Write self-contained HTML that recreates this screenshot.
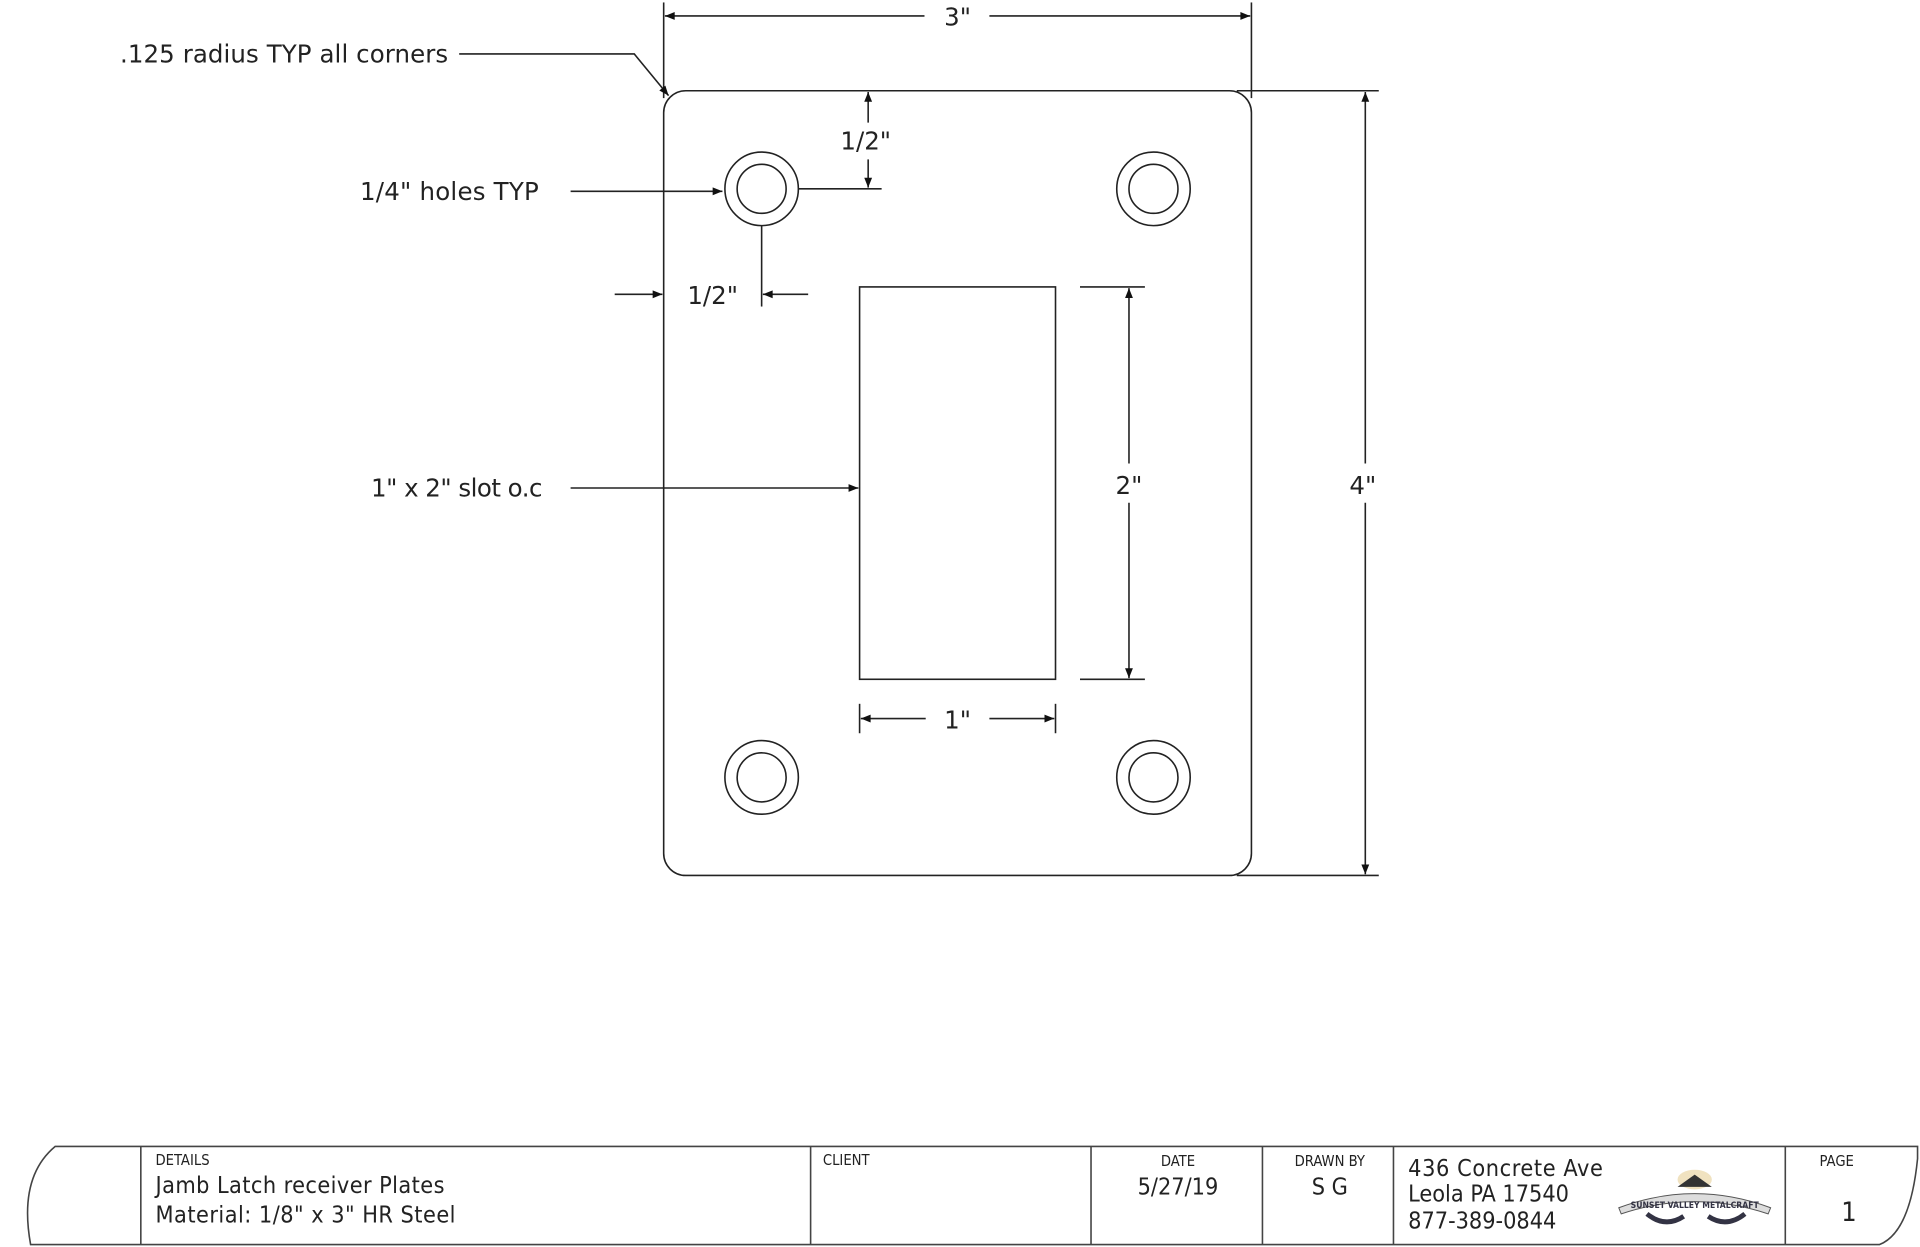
<!DOCTYPE html>
<html><head><meta charset="utf-8"><style>
html,body{margin:0;padding:0;background:#fff;}
svg{display:block;}
text{font-family:"DejaVu Sans Condensed","Liberation Sans",sans-serif;fill:#222;}
.d{font-family:"DejaVu Sans","Liberation Sans",sans-serif;}
</style></head><body>
<svg width="1920" height="1247" viewBox="0 0 1568 1017" preserveAspectRatio="none" xmlns="http://www.w3.org/2000/svg">
<defs>
<marker id="a" viewBox="0 0 10 10" refX="10" refY="5" markerWidth="20" markerHeight="8" markerUnits="userSpaceOnUse" orient="auto"><path d="M0,1 L10,5 L0,9 z" fill="#111"/></marker>
</defs>
<g stroke="#222" stroke-width="1.3" fill="none">
<rect x="542" y="74" width="480" height="640" rx="18"/>
<circle cx="622" cy="154" r="30"/><circle cx="622" cy="154" r="20"/>
<circle cx="942" cy="154" r="30"/><circle cx="942" cy="154" r="20"/>
<circle cx="622" cy="634" r="30"/><circle cx="622" cy="634" r="20"/>
<circle cx="942" cy="634" r="30"/><circle cx="942" cy="634" r="20"/>
<rect x="702" y="234" width="160" height="320"/>
<line x1="542" y1="2" x2="542" y2="80"/><line x1="1022" y1="2" x2="1022" y2="80"/>
<line x1="755" y1="13" x2="543" y2="13" marker-end="url(#a)"/>
<line x1="808" y1="13" x2="1021" y2="13" marker-end="url(#a)"/>
<line x1="1010" y1="74" x2="1126" y2="74"/><line x1="1010" y1="714" x2="1126" y2="714"/>
<line x1="1115" y1="378" x2="1115" y2="75" marker-end="url(#a)"/>
<line x1="1115" y1="410" x2="1115" y2="713" marker-end="url(#a)"/>
<line x1="882" y1="234" x2="935" y2="234"/><line x1="882" y1="554" x2="935" y2="554"/>
<line x1="922" y1="378" x2="922" y2="235" marker-end="url(#a)"/>
<line x1="922" y1="410" x2="922" y2="553" marker-end="url(#a)"/>
<line x1="702" y1="574" x2="702" y2="598"/><line x1="862" y1="574" x2="862" y2="598"/>
<line x1="756" y1="586" x2="703" y2="586" marker-end="url(#a)"/>
<line x1="808" y1="586" x2="861" y2="586" marker-end="url(#a)"/>
<line x1="652" y1="154" x2="720" y2="154"/>
<line x1="709" y1="100" x2="709" y2="75" marker-end="url(#a)"/>
<line x1="709" y1="130" x2="709" y2="153" marker-end="url(#a)"/>
<line x1="622" y1="184" x2="622" y2="250"/>
<line x1="502" y1="240" x2="541" y2="240" marker-end="url(#a)"/>
<line x1="660" y1="240" x2="623" y2="240" marker-end="url(#a)"/>
<polyline points="375,44 518,44 546,78" marker-end="url(#a)"/>
<line x1="466" y1="156" x2="590" y2="156" marker-end="url(#a)"/>
<line x1="466" y1="398" x2="701" y2="398" marker-end="url(#a)"/>
</g>
<g font-size="20" class="d">
<text class="d" x="782" y="21" text-anchor="middle">3"</text>
<text class="d" x="1113" y="403" text-anchor="middle">4"</text>
<text class="d" x="922" y="403" text-anchor="middle">2"</text>
<text class="d" x="782" y="594" text-anchor="middle">1"</text>
<text class="d" x="707" y="122" text-anchor="middle">1/2"</text>
<text class="d" x="582" y="248" text-anchor="middle">1/2"</text>
<text class="d" x="98" y="51" textLength="268">.125 radius TYP all corners</text>
<text class="d" x="294" y="163" textLength="146">1/4" holes TYP</text>
<text class="d" x="303" y="405" textLength="140">1" x 2" slot o.c</text>
</g>
<g stroke="#444" stroke-width="1.3" fill="none">
<path d="M45,935 L1566,935 L1566,945 Q1560,1005 1535,1015 L25,1015 Q15,960 45,935 Z"/>
<line x1="115" y1="935" x2="115" y2="1015"/>
<line x1="662" y1="935" x2="662" y2="1015"/>
<line x1="891" y1="935" x2="891" y2="1015"/>
<line x1="1031" y1="935" x2="1031" y2="1015"/>
<line x1="1138" y1="935" x2="1138" y2="1015"/>
<line x1="1458" y1="935" x2="1458" y2="1015"/>
</g>
<g font-size="12">
<text x="127" y="950">DETAILS</text>
<text x="672" y="950">CLIENT</text>
<text x="962" y="951" text-anchor="middle">DATE</text>
<text x="1086" y="951" text-anchor="middle">DRAWN BY</text>
<text x="1500" y="951" text-anchor="middle">PAGE</text>
</g>
<g font-size="19">
<text x="127" y="973" textLength="236">Jamb Latch receiver Plates</text>
<text x="127" y="997" textLength="245">Material: 1/8" x 3" HR Steel</text>
<text x="962" y="974" text-anchor="middle">5/27/19</text>
<text x="1086" y="974" text-anchor="middle">S G</text>
<text x="1150" y="959" textLength="159">436 Concrete Ave</text>
<text x="1150" y="980">Leola PA 17540</text>
<text x="1150" y="1002">877-389-0844</text>
<text x="1510" y="996" text-anchor="middle" font-size="22">1</text>
</g>
<g>
<ellipse cx="1384" cy="962" rx="14" ry="8" fill="#f0e2c0"/>
<path d="M1370,968 L1384,958 L1398,968 Z" fill="#333"/>
<path d="M1322,985 Q1384,962 1446,985 L1444,990 Q1384,970 1324,990 Z" fill="#ddd" stroke="#555" stroke-width="0.8"/>
<text x="1384" y="985" font-size="7" text-anchor="middle" font-weight="bold" style="fill:#334">SUNSET VALLEY METALCRAFT</text>
<path d="M1345,990 Q1360,1002 1375,992" stroke="#334" stroke-width="4" fill="none"/>
<path d="M1395,992 Q1410,1002 1425,990" stroke="#334" stroke-width="4" fill="none"/>
</g>
</svg>
</body></html>
